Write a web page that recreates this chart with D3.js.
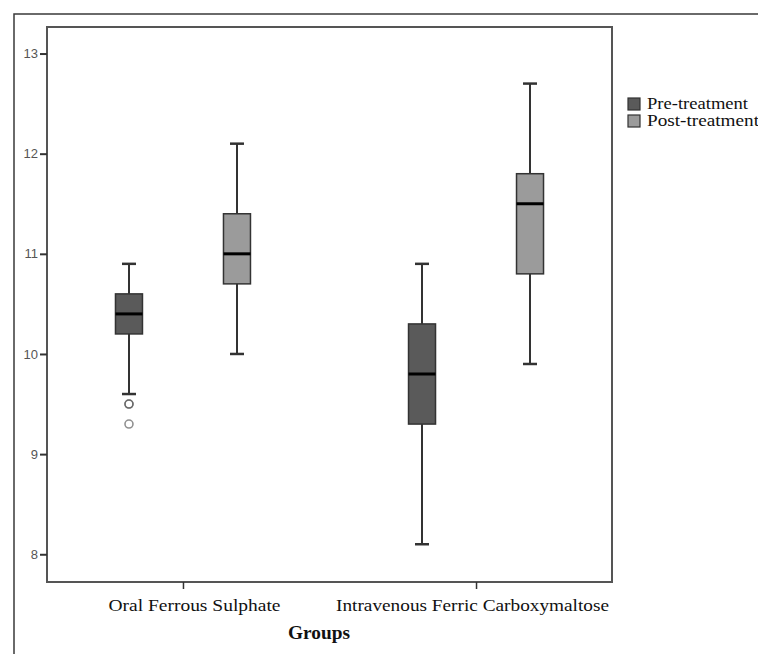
<!DOCTYPE html>
<html>
<head>
<meta charset="utf-8">
<script src="https://cdn.jsdelivr.net/npm/d3@7"></script>
<style>
  html, body { margin: 0; padding: 0; background: #fff; }
  svg { display: block; }
</style>
</head>
<body>
<svg id="chart" width="758" height="654"></svg>
<script>
// Haemoglobin (g/dL) by group, before and after treatment
const groups = ["Oral Ferrous Sulphate", "Intravenous Ferric Carboxymaltose"];
const series = ["Pre-treatment", "Post-treatment"];
const seriesColors = ["#5a5a5a", "#9b9b9b"];

// five-number summaries [lowerWhisker, q1, median, q3, upperWhisker]
const oralPre  = [9.6, 10.2, 10.4, 10.6, 10.9];
const oralPost = [10.0, 10.7, 11.0, 11.4, 12.1];
const ivPre    = [8.1, 9.3, 9.8, 10.3, 10.9];
const ivPost   = [9.9, 10.8, 11.5, 11.8, 12.7];
// outliers for Oral Ferrous Sulphate, pre-treatment (9.5 occurs twice)
const oralPreOutliers = [9.5, 9.5, 9.3];

const yTicks = [8, 9, 10, 11, 12, 13];

const boxes = [
  { group: groups[0], series: series[0], s: oralPre,  outliers: oralPreOutliers },
  { group: groups[0], series: series[1], s: oralPost, outliers: [] },
  { group: groups[1], series: series[0], s: ivPre,    outliers: [] },
  { group: groups[1], series: series[1], s: ivPost,   outliers: [] }
];

const svg = d3.select("#chart");

// outer frame (left and top edges visible)
svg.append("rect")
  .attr("x", 14).attr("y", 14)
  .attr("width", 800).attr("height", 700)
  .attr("fill", "none").attr("stroke", "#3a3a3a").attr("stroke-width", 1.5);

const plot = { left: 47, top: 27, right: 612, bottom: 582 };

const y = d3.scaleLinear().domain([7.723, 13.265]).range([plot.bottom, plot.top]);
const x = d3.scalePoint().domain(groups).range([plot.left, plot.right]).padding(0.464);
const xs = d3.scalePoint().domain(series).range([-54, 54]);
const color = d3.scaleOrdinal().domain(series).range(seriesColors);

const boxW = 27, capW = 14;

// plot area border
svg.append("rect")
  .attr("x", plot.left).attr("y", plot.top)
  .attr("width", plot.right - plot.left).attr("height", plot.bottom - plot.top)
  .attr("fill", "none").attr("stroke", "#555").attr("stroke-width", 2);

// y axis
const yAxis = svg.append("g")
  .attr("transform", `translate(${plot.left},0)`)
  .call(d3.axisLeft(y).tickValues(yTicks).tickSize(7).tickPadding(2).tickFormat(d3.format("d")));
yAxis.select(".domain").remove();
yAxis.selectAll(".tick line").attr("stroke", "#333").attr("stroke-width", 2);
yAxis.selectAll(".tick text")
  .attr("fill", "#555")
  .style("font-family", "'Liberation Sans', Arial, sans-serif")
  .style("font-size", "13px");

// x axis; category labels sit slightly off their ticks
const labelShift = [11, -4];
const labelWidth = [172, 273];
const xAxis = svg.append("g")
  .attr("transform", `translate(0,${plot.bottom})`)
  .call(d3.axisBottom(x).tickSize(7).tickPadding(10));
xAxis.select(".domain").remove();
xAxis.selectAll(".tick line").attr("stroke", "#333").attr("stroke-width", 1.5);
xAxis.selectAll(".tick text")
  .attr("fill", "#111")
  .attr("x", (d, i) => labelShift[i])
  .style("font-family", "'Liberation Serif', 'Times New Roman', serif")
  .style("font-size", "17px")
  .attr("textLength", (d, i) => labelWidth[i])
  .attr("lengthAdjust", "spacingAndGlyphs");

// axis title
svg.append("text")
  .attr("x", 319).attr("y", 639)
  .attr("text-anchor", "middle")
  .style("font-family", "'Liberation Serif', 'Times New Roman', serif")
  .style("font-size", "18px").style("font-weight", "bold")
  .attr("fill", "#111")
  .attr("textLength", 62)
  .attr("lengthAdjust", "spacingAndGlyphs")
  .text("Groups");

// boxes
const g = svg.append("g").selectAll("g.box").data(boxes).join("g")
  .attr("class", "box")
  .attr("transform", d => `translate(${x(d.group) + xs(d.series)},0)`);

// whiskers
g.append("line")
  .attr("x1", 0).attr("x2", 0)
  .attr("y1", d => y(d.s[0])).attr("y2", d => y(d.s[1]))
  .attr("stroke", "#333").attr("stroke-width", 2);
g.append("line")
  .attr("x1", 0).attr("x2", 0)
  .attr("y1", d => y(d.s[3])).attr("y2", d => y(d.s[4]))
  .attr("stroke", "#333").attr("stroke-width", 2);
// caps
g.selectAll("line.cap").data(d => [d.s[0], d.s[4]]).join("line")
  .attr("class", "cap")
  .attr("x1", -capW / 2).attr("x2", capW / 2)
  .attr("y1", v => y(v)).attr("y2", v => y(v))
  .attr("stroke", "#333").attr("stroke-width", 2.5);
// box body
g.append("rect")
  .attr("x", -boxW / 2).attr("width", boxW)
  .attr("y", d => y(d.s[3])).attr("height", d => y(d.s[1]) - y(d.s[3]))
  .attr("fill", d => color(d.series))
  .attr("stroke", "#333").attr("stroke-width", 1.5);
// median
g.append("line")
  .attr("x1", -boxW / 2).attr("x2", boxW / 2)
  .attr("y1", d => y(d.s[2])).attr("y2", d => y(d.s[2]))
  .attr("stroke", "#000").attr("stroke-width", 3);
// outliers
g.selectAll("circle").data(d => d.outliers).join("circle")
  .attr("cx", 0).attr("cy", v => y(v)).attr("r", 4)
  .attr("fill", "none").attr("stroke", "#555").attr("stroke-opacity", 0.65)
  .attr("stroke-width", 1.6);

// legend
const legend = svg.append("g").selectAll("g").data(series).join("g")
  .attr("transform", (d, i) => `translate(628,${98 + i * 17})`);
legend.append("rect")
  .attr("width", 12).attr("height", 12)
  .attr("fill", d => color(d))
  .attr("stroke", "#333").attr("stroke-width", 1.2);
legend.append("text")
  .attr("x", 19).attr("y", 11)
  .style("font-family", "'Liberation Serif', 'Times New Roman', serif")
  .style("font-size", "16px")
  .attr("fill", "#111")
  .attr("textLength", (d, i) => i === 0 ? 101 : 112)
  .attr("lengthAdjust", "spacingAndGlyphs")
  .text(d => d);
</script>
</body>
</html>
